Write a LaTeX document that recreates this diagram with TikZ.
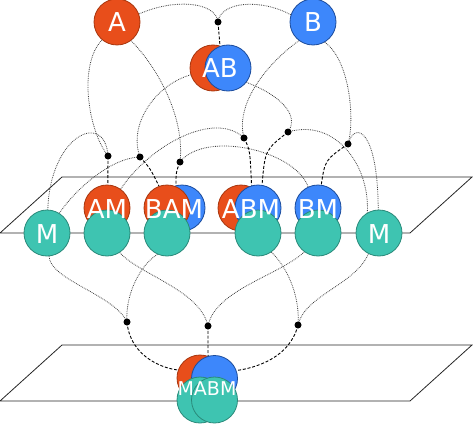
\documentclass[tikz,border=0pt]{standalone}
\usepackage{fontspec}
\setmainfont{DejaVu Sans}
\usetikzlibrary{backgrounds}
\definecolor{cred}{HTML}{E84E1B}
\definecolor{credd}{HTML}{A8360E}
\definecolor{cblue}{HTML}{3D87FB}
\definecolor{cblued}{HTML}{1C4C9C}
\definecolor{cteal}{HTML}{3EC4B1}
\definecolor{cteald}{HTML}{2A8A7A}
\begin{document}
\begin{tikzpicture}[x=1pt,y=-1pt,
  circbase/.style={circle, minimum size=46pt, inner sep=0pt, line width=0.8pt},
  redc/.style={circbase, fill=cred, draw=credd},
  bluec/.style={circbase, fill=cblue, draw=cblued},
  tealc/.style={circbase, fill=cteal, draw=cteald},
  dotn/.style={circle, fill=black, minimum size=7pt, inner sep=0pt},
  lab/.style={text=white, inner sep=0pt, font=\fontsize{26}{26}\selectfont},
  labs/.style={text=white, inner sep=0pt, font=\fontsize{19}{19}\selectfont},
  inl/.style={line width=0.8pt, black!75, dash pattern=on 0.8pt off 1pt},
  outl/.style={line width=0.9pt, black, dash pattern=on 3pt off 1.8pt},
  plane/.style={line width=0.8pt, black!85}]
\useasboundingbox (0,0) rectangle (473,425);

% top nodes
\node[redc] (A) at (117,22) {};
\node[bluec] (B) at (313,22) {};
\node[redc] (ABr) at (213,68) {};
\node[bluec] (ABb) at (228,68) {};

% middle row
\node[tealc] (ML) at (47,233) {};
\node[redc] (AMr) at (107,208) {};
\node[tealc] (AMt) at (107,233) {};
\node[bluec] (BAMb) at (182,208) {};
\node[redc] (BAMr) at (167,208) {};
\node[tealc] (BAMt) at (167,233) {};
\node[redc] (ABMr) at (241,208) {};
\node[bluec] (ABMb) at (258,208) {};
\node[tealc] (ABMt) at (258,233) {};
\node[bluec] (BMb) at (318,208) {};
\node[tealc] (BMt) at (318,233) {};
\node[tealc] (MR) at (379,233) {};

% bottom composite
\node[redc] (Xr) at (200,378) {};
\node[bluec] (Xb) at (214.5,378.5) {};
\node[tealc] (Xt1) at (200,400) {};
\node[tealc] (Xt2) at (214.5,400) {};

% labels
\node[lab] (tA) at (117,22) {A};
\node[lab] (tB) at (313,22) {B};
\node[lab] (tAB) at (220,68) {AB};
\node[lab] (tML) at (47,234) {M};
\node[lab] (tAM) at (107,209) {AM};
\node[lab] (tBAM) at (174,209) {BAM};
\node[lab] (tABM) at (251,209) {ABM};
\node[lab] (tBM) at (318,209) {BM};
\node[lab] (tMR) at (379,234) {M};
\node[labs] (tX) at (207,389) {MABM};

% junction dots
\node[dotn] (d0) at (218,22) {};
\node[dotn] (d1) at (108,156) {};
\node[dotn] (d2) at (140,157) {};
\node[dotn] (d3) at (180,162) {};
\node[dotn] (d4) at (244,138) {};
\node[dotn] (d5) at (288,132) {};
\node[dotn] (d6) at (348,144) {};
\node[dotn] (d7) at (127,322) {};
\node[dotn] (d8) at (208,326) {};
\node[dotn] (d9) at (298,325) {};

\begin{pgfonlayer}{background}
% planes
\draw[plane] (62,177) -- (472,177) -- (410,233) -- (0,233) -- cycle;
\draw[plane] (62,345) -- (472,345) -- (410,401) -- (0,401) -- cycle;

% top junction
\draw[inl] (A.20) .. controls (175,-2) and (216,2) .. (d0.center);
\draw[inl] (B.162) .. controls (260,-2) and (220,2) .. (d0.center);
\draw[outl] (d0.center) -- (ABb.110);

% level 2 inputs
\draw[inl] (A.230) .. controls (78,65) and (88,130) .. (d1.center);
\draw[inl] (ML.88) .. controls (50,135) and (105,110) .. (d1.center);
\draw[inl] (ABr.197) .. controls (155,85) and (128,125) .. (d2.center);
\draw[inl] (ML.58) .. controls (75,190) and (110,158) .. (d2.center);
\draw[inl] (A.-53) .. controls (160,70) and (185,120) .. (d3.center);
\draw[inl] (BMb.115) .. controls (295,150) and (205,130) .. (d3.center);
\draw[inl] (B.233) .. controls (265,65) and (235,105) .. (d4.center);
\draw[inl] (AMr.54) .. controls (150,145) and (215,110) .. (d4.center);
\draw[inl] (ABb.-38) .. controls (280,95) and (300,115) .. (d5.center);
\draw[inl] (MR.120) .. controls (370,165) and (335,118) .. (d5.center);
\draw[inl] (B.-60) .. controls (350,60) and (355,120) .. (d6.center);
\draw[inl] (MR.92) .. controls (378,130) and (355,120) .. (d6.center);

% level 2 outputs
\draw[outl] (d1.center) -- (AMr.88);
\draw[outl] (d2.center) .. controls (150,168) .. (BAMr.110);
\draw[outl] (d3.center) .. controls (176,172) .. (BAMb.105);
\draw[outl] (d4.center) .. controls (250,150) .. (ABMb.106);
\draw[outl] (d5.center) .. controls (265,150) .. (ABMb.80);
\draw[outl] (d6.center) .. controls (325,160) .. (BMb.82);

% level 3 inputs
\draw[inl] (ML.-85) .. controls (50,280) and (115,295) .. (d7.center);
\draw[inl] (BAMt.-114) .. controls (140,265) and (125,295) .. (d7.center);
\draw[inl] (AMt.-57) .. controls (140,275) and (200,290) .. (d8.center);
\draw[inl] (BMt.-126) .. controls (280,275) and (215,290) .. (d8.center);
\draw[inl] (ABMt.-55) .. controls (290,270) and (300,300) .. (d9.center);
\draw[inl] (MR.-117) .. controls (355,285) and (305,295) .. (d9.center);

% level 3 outputs
\draw[outl] (d7.center) .. controls (130,355) and (160,368) .. (Xr.160);
\draw[outl] (d8.center) -- (Xb.106);
\draw[outl] (d9.center) .. controls (290,358) and (255,368) .. (Xb.20);
\end{pgfonlayer}
\end{tikzpicture}
\end{document}
